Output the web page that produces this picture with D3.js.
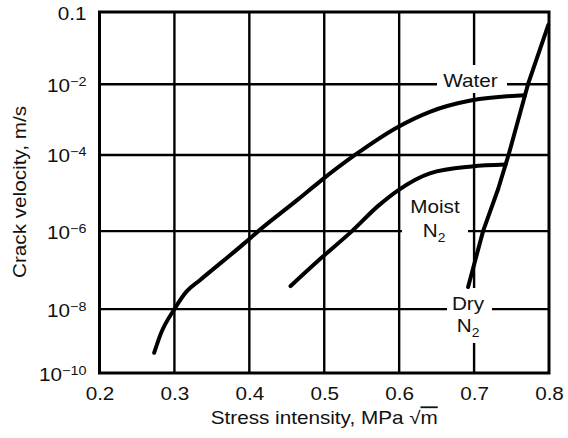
<!DOCTYPE html>
<html>
<head>
<meta charset="utf-8">
<script src="https://cdn.jsdelivr.net/npm/d3@7/dist/d3.min.js"></script>
<style>
  body { margin: 0; background: #fff; }
  text { font-family: "Liberation Sans", Arial, Helvetica, sans-serif; fill: #111; }
</style>
</head>
<body>
<svg id="chart" width="568" height="438"></svg>
<script>
// Stress intensity ticks (MPa √m)
const xTicks = [0.2, 0.3, 0.4, 0.5, 0.6, 0.7, 0.8];
// Crack velocity ticks, as powers of ten, with their printed labels
const yExponents = [-10, -8, -6, -4, -2, -1];
const yTickBase = ["10", "10", "10", "10", "10", "0.1"];
const yTickSup  = ["\u221210", "\u22128", "\u22126", "\u22124", "\u22122", ""];

// Water environment
const waterK = [0.273, 0.282, 0.300, 0.316, 0.334, 0.394, 0.412, 0.465, 0.494, 0.541, 0.599, 0.641, 0.697, 0.768];
const waterV = [4.3e-10, 1.74e-9, 1e-8, 2.8e-8, 5.5e-8, 5e-7, 1e-6, 6.8e-6, 2e-5, 1e-4, 6.3e-4, 1.66e-3, 3.5e-3, 4.9e-3];
// Moist nitrogen
const moistK = [0.455, 0.494, 0.537, 0.572, 0.599, 0.641, 0.697, 0.742];
const moistV = [3.9e-8, 1.9e-7, 1e-6, 4.6e-6, 1.2e-5, 3.3e-5, 5e-5, 5.6e-5];
// Dry nitrogen
const dryK = [0.692, 0.712, 0.732, 0.746, 0.772, 0.799];
const dryV = [3.7e-8, 1e-6, 1.26e-5, 1e-4, 1e-2, 0.066];

const svg = d3.select("#chart");
const plotL = 99.5, plotR = 549, plotT = 12, plotB = 373;
const H = plotB - plotT;

const x = d3.scaleLinear().domain([0.2, 0.8]).range([plotL, plotR]);
// The printed decades are not evenly spaced, so the axis is piecewise in log10(v)
const y = d3.scaleLinear()
  .domain(yExponents)
  .range([plotB, plotB - 0.177 * H, plotB - 0.393 * H, plotB - 0.604 * H, plotB - 0.80 * H, plotT]);

const STRETCH = 1.15;

// Grid lines
const grid = svg.append("g").attr("stroke", "#000").attr("stroke-width", 2.4);
grid.selectAll("line.v").data(xTicks.slice(1, -1)).join("line").attr("class", "v")
  .attr("x1", d => x(d)).attr("x2", d => x(d)).attr("y1", plotT).attr("y2", plotB);
grid.selectAll("line.h").data(yExponents.slice(1, -1)).join("line").attr("class", "h")
  .attr("y1", d => y(d)).attr("y2", d => y(d)).attr("x1", plotL).attr("x2", plotR);

// Frame
svg.append("rect").attr("x", plotL).attr("y", plotT).attr("width", plotR - plotL).attr("height", H)
  .attr("fill", "none").attr("stroke", "#000").attr("stroke-width", 3);

// White plates behind the curve labels
const plates = [[437, 65, 70, 28], [402, 190, 66, 55], [447, 288, 45, 55]];
svg.append("g").selectAll("rect").data(plates).join("rect")
  .attr("x", d => d[0]).attr("y", d => d[1]).attr("width", d => d[2]).attr("height", d => d[3])
  .attr("fill", "#fff");

// Curves
const line = d3.line().x(d => x(d[0])).y(d => y(Math.log10(d[1])));
const series = [
  { k: waterK, v: waterV, curve: d3.curveMonotoneX },
  { k: moistK, v: moistV, curve: d3.curveMonotoneX },
  { k: dryK, v: dryV, curve: d3.curveLinear }
];
svg.append("g").selectAll("path").data(series).join("path")
  .attr("d", s => line.curve(s.curve)(s.k.map((k, i) => [k, s.v[i]])))
  .attr("fill", "none").attr("stroke", "#000").attr("stroke-width", 4)
  .attr("stroke-linecap", "round").attr("stroke-linejoin", "round");

// X axis
const xAxis = d3.axisBottom(x).tickValues(xTicks).tickSize(0).tickPadding(0).tickFormat(d3.format(".1f"));
const gx = svg.append("g").attr("transform", `translate(0,${plotB})`).call(xAxis);
gx.select(".domain").remove();
gx.selectAll(".tick text")
  .attr("y", 0).attr("dy", null)
  .attr("transform", `translate(0,27) scale(${STRETCH},1)`)
  .attr("font-size", 18).attr("font-family", null).attr("fill", "#111");

// Y axis with superscript exponents
const yAxis = d3.axisLeft(y).tickValues(yExponents).tickSize(0).tickPadding(0).tickFormat("");
const gy = svg.append("g").attr("transform", `translate(${plotL},0)`).call(yAxis);
gy.select(".domain").remove();
gy.selectAll(".tick text").each(function (d, i) {
  const t = d3.select(this)
    .attr("x", 0).attr("dy", null).attr("y", 0)
    .attr("text-anchor", "end")
    .attr("font-size", 18).attr("font-family", null).attr("fill", "#111")
    .attr("transform", `translate(-13,7) scale(${STRETCH},1)`);
  t.text(null);
  t.append("tspan").text(yTickBase[i]);
  if (yTickSup[i]) {
    t.append("tspan").attr("font-size", 12.5).attr("dy", -6).text(yTickSup[i]);
  }
});

// Axis titles
const xt = svg.append("text")
  .attr("transform", `translate(${(plotL + plotR) / 2},424) scale(${STRETCH},1)`)
  .attr("text-anchor", "middle").attr("font-size", 18);
xt.append("tspan").text("Stress intensity, MPa \u221A");
xt.append("tspan").style("text-decoration", "overline").text("m");

svg.append("text")
  .attr("transform", `translate(26,192) rotate(-90) scale(${STRETCH},1)`)
  .attr("text-anchor", "middle").attr("font-size", 18)
  .text("Crack velocity, m/s");

// Curve labels
function label(cx, baseline, parts) {
  const t = svg.append("text")
    .attr("transform", `translate(${cx},${baseline}) scale(${STRETCH},1)`)
    .attr("text-anchor", "middle").attr("font-size", 18);
  parts.forEach(p => {
    const s = t.append("tspan").text(p[0]);
    if (p[1]) s.attr("font-size", 12).attr("dy", 5);
  });
}
label(470.5, 87, [["Water"]]);
label(435, 213, [["Moist"]]);
label(434, 237, [["N"], ["2", true]]);
label(468, 310, [["Dry"]]);
label(468, 332, [["N"], ["2", true]]);
</script>
</body>
</html>
